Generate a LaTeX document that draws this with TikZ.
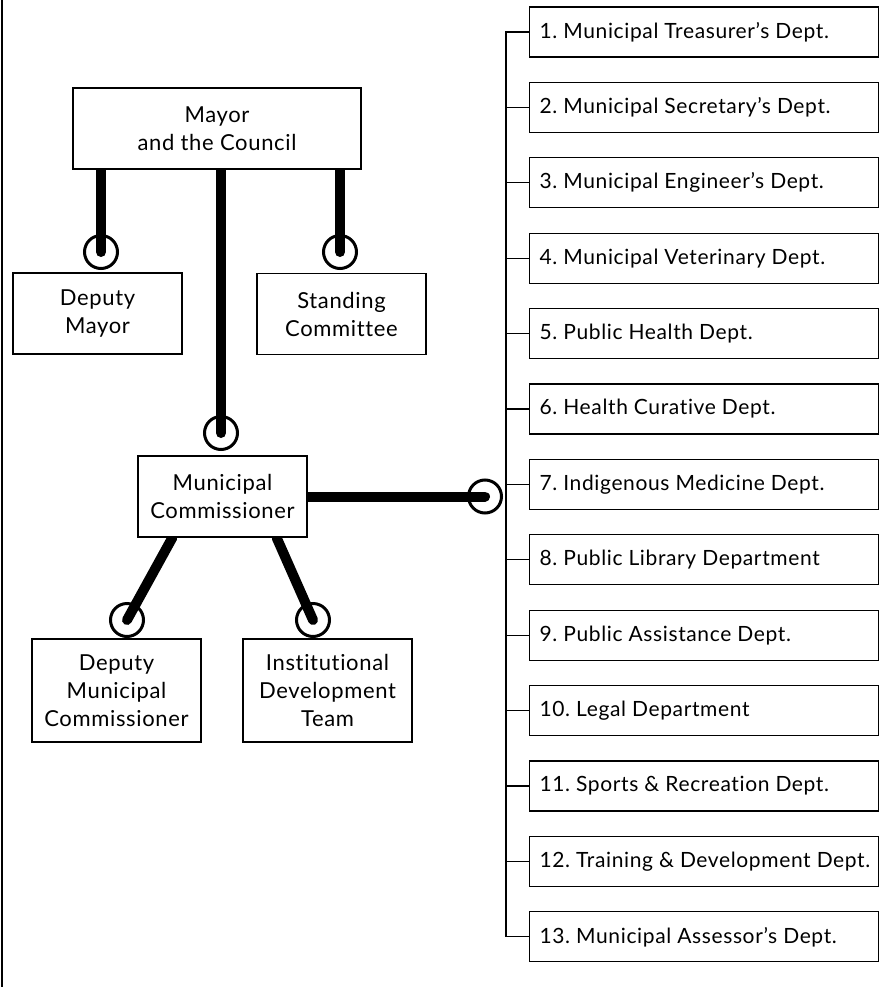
\documentclass[tikz,border=0pt]{standalone}
\usepackage{fontspec}
\setmainfont{Lato}[LetterSpace=3,Ligatures={NoCommon}]
\usetikzlibrary{backgrounds}
\begin{document}
\begin{tikzpicture}[x=1pt,y=-1pt,
  box/.style={draw=black, line width=1.2pt, fill=white, align=center, inner sep=0pt,
    font=\fontsize{22}{28}\selectfont\frenchspacing},
  dept/.style={draw=black, line width=1.2pt, fill=white, anchor=west, inner xsep=10pt, inner ysep=0pt,
    minimum width=349pt, minimum height=50pt, font=\fontsize{21}{28}\selectfont\frenchspacing},
  ring/.style={draw=black, line width=3pt, circle, minimum size=33pt, inner sep=0pt},
  heavy/.style={line width=10pt, line cap=round},
  thin/.style={line width=1.2pt}]
\useasboundingbox (0,0) rectangle (888,987);

% left border
\coordinate (bt) at (2,0);
\coordinate (bb) at (2,987);
\draw[thin] (bt) -- (bb);

% main boxes
\node[box, minimum width=288pt, minimum height=81pt] (mayor) at (217,128.5) {Mayor\\and the Council};
\node[box, minimum width=169pt, minimum height=81pt] (dmayor) at (97.5,313.5) {Deputy\\Mayor};
\node[box, minimum width=169pt, minimum height=81pt] (sc) at (341.5,314) {Standing\\Committee};
\node[box, minimum width=169pt, minimum height=81pt] (mc) at (222.5,496.5) {Municipal\\Commissioner};
\node[box, minimum width=169pt, minimum height=103pt] (dmc) at (116.5,690.5) {Deputy\\Municipal\\Commissioner};
\node[box, minimum width=169pt, minimum height=103pt] (idt) at (327.5,690.5) {Institutional\\Development\\Team};

% rings
\node[ring] (r1) at (101,252) {};
\node[ring] (r2) at (340,252) {};
\node[ring] (r3) at (221,433) {};
\node[ring] (r4) at (127,620) {};
\node[ring] (r5) at (313,620) {};
\node[ring] (r6) at (485,496.5) {};

% departments
\foreach \i/\t in {1/{1. Municipal Treasurer's Dept.},
                   2/{2. Municipal Secretary's Dept.},
                   3/{3. Municipal Engineer's Dept.},
                   4/{4. Municipal Veterinary Dept.},
                   5/{5. Public Health Dept.},
                   6/{6. Health Curative Dept.},
                   7/{7. Indigenous Medicine Dept.},
                   8/{8. Public Library Department},
                   9/{9. Public Assistance Dept.},
                   10/{10. Legal Department},
                   11/{11. Sports \& Recreation Dept.},
                   12/{12. Training \& Development Dept.},
                   13/{13. Municipal Assessor's Dept.}}
  \node[dept] (d\i) at (529,{32+(\i-1)*75.4}) {\makebox[329pt][l]{\t}};

\coordinate (trunk) at (506,0);

\begin{scope}[on background layer]
  \draw[heavy] (mayor.south -| r1.center) -- (r1.center);
  \draw[heavy] (mayor.south -| r2.center) -- (r2.center);
  \draw[heavy] (mayor.south -| r3.center) -- (r3.center);
  \draw[heavy] ([xshift=35pt]mc.south west) -- (r4.center);
  \draw[heavy] ([xshift=-31pt]mc.south east) -- (r5.center);
  \draw[heavy] (mc.east) -- (r6.center);
\end{scope}

% trunk and branches
\draw[thin] (d1.west) -- (d1.west -| trunk) -- (d13.west -| trunk) -- (d13.west);
\foreach \i in {2,...,12}
  \draw[thin] (d\i.west) -- (d\i.west -| trunk);
\end{tikzpicture}
\end{document}
